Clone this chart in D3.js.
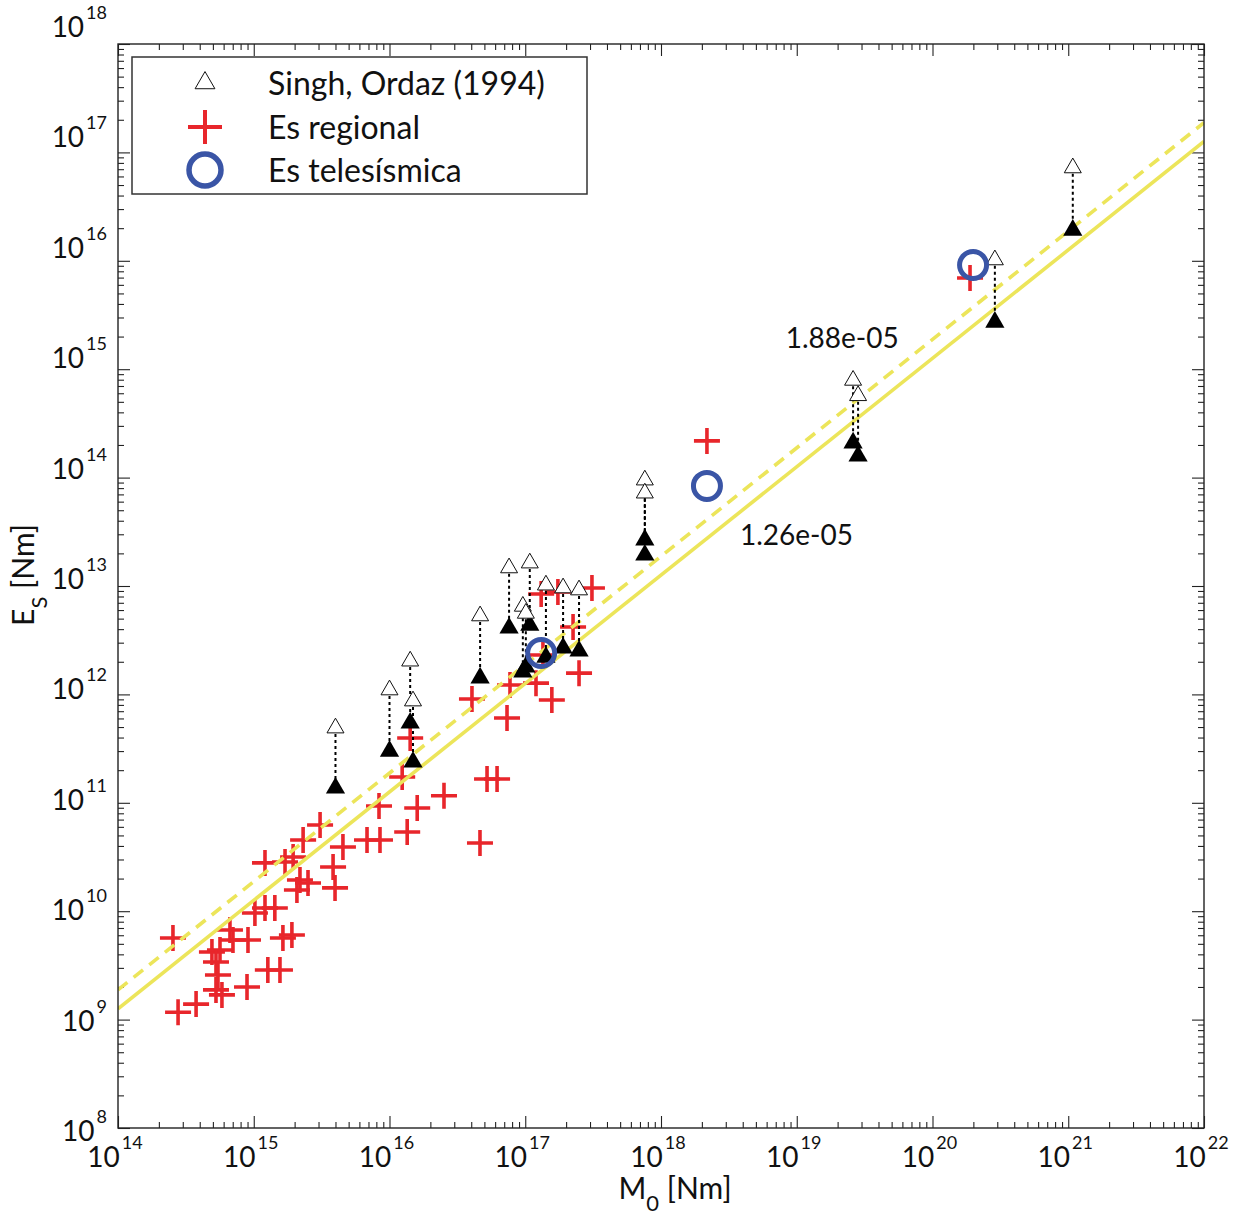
<!DOCTYPE html>
<html>
<head>
<meta charset="utf-8">
<script src="https://cdn.jsdelivr.net/npm/d3@7"></script>
<style>
  body { margin: 0; background: #fff; }
  svg { display: block; }
  text { font-family: "Lato", "Open Sans", "DejaVu Sans", sans-serif; fill: #111; }
</style>
</head>
<body>
<svg id="chart" width="1249" height="1219"></svg>
<script>
// ---- Data -------------------------------------------------------------
// Singh & Ordaz (1994): seismic moment, published energy, corrected energy
const singhM0     = [4.0e15, 1.0e16, 1.42e16, 1.49e16, 4.65e16, 7.6e16, 1.08e17, 9.6e16, 1.01e17,
                     1.42e17, 1.9e17, 2.49e17, 7.6e17, 7.6e17, 2.6e19, 2.83e19, 2.88e20, 1.08e21];
const singhEs     = [4.9e11, 1.1e12, 2.03e12, 8.7e11, 5.3e12, 1.47e13, 1.63e13, 6.5e12, 5.6e12,
                     1.02e13, 9.6e12, 9.2e12, 9.5e13, 7.2e13, 7.9e14, 5.7e14, 1.02e16, 7.2e16];
const singhEsCorr = [1.37e11, 3.0e11, 5.45e11, 2.38e11, 1.42e12, 4.1e12, 4.36e12, 1.61e12, 1.79e12,
                     2.2e12, 2.68e12, 2.51e12, 2.66e13, 1.93e13, 2.09e14, 1.58e14, 2.72e15, 1.92e16];

// Regional energy estimates
const regionalM0 = [2.54e14, 2.77e14, 3.76e14, 4.92e14, 5.64e14, 5.27e14, 5.45e14, 5.27e14, 5.83e14, 6.68e14,
                    7.03e14, 9.07e14, 8.92e14, 1.02e15, 1.21e15, 1.43e15, 1.27e15, 1.56e15, 1.64e15, 1.91e15,
                    1.21e15, 1.70e15, 1.95e15, 2.19e15, 2.51e15, 2.08e15, 2.31e15, 3.08e15, 3.97e15, 3.84e15,
                    4.54e15, 6.83e15, 8.51e15, 8.37e15, 1.24e16, 1.35e16, 1.60e16, 1.42e16, 2.52e16, 4.64e16,
                    5.23e16, 6.2e16, 4.05e16, 7.34e16, 7.72e16, 1.2e17, 1.57e17, 2.49e17, 2.25e17, 1.31e17,
                    1.74e17, 3.1e17, 1.35e17, 2.18e18, 1.89e20];
const regionalEs = [5.66e9, 1.17e9, 1.39e9, 4.2e9, 4.39e9, 3.4e9, 2.58e9, 1.88e9, 1.69e9, 6.71e9,
                    5.42e9, 5.42e9, 2.0e9, 9.62e9, 1.07e10, 1.07e10, 2.87e9, 2.87e9, 5.66e9, 6.03e9,
                    2.79e10, 2.84e10, 3.16e10, 1.94e10, 1.82e10, 1.57e10, 4.54e10, 6.24e10, 1.64e10, 2.56e10,
                    3.91e10, 4.54e10, 4.54e10, 9.34e10, 1.73e11, 5.38e10, 8.95e10, 3.96e11, 1.16e11, 4.26e10,
                    1.66e11, 1.66e11, 9.07e11, 6.06e11, 1.22e12, 1.27e12, 8.88e11, 1.57e12, 4.19e12, 8.44e12,
                    8.81e12, 9.59e12, 2.31e12, 2.18e14, 6.93e15];

// Teleseismic energy estimates
const teleM0 = [1.31e17, 2.18e18, 1.99e20];
const teleEs = [2.41e12, 8.38e13, 9.14e15];

// Es = ratio * M0 reference lines (solid, dashed)
const fitRatios = [1.26e-5, 1.88e-5];
const fitLabels = ["1.26e-05", "1.88e-05"];
const fitLabelM0 = [3.82e18, 8.3e18];
const fitLabelEs = [2.39e13, 1.57e15];

// Axis decades
const xTickExps = [14, 15, 16, 17, 18, 19, 20, 21, 22];
const yTickExps = [8, 9, 10, 11, 12, 13, 14, 15, 16, 17, 18];

const legendLabels = ["Singh, Ordaz (1994)", "Es regional", "Es telesísmica"];

// ---- Layout -------------------------------------------------------------
const svg = d3.select("#chart");
const pLeft = 118, pRight = 1204, pTop = 44, pBottom = 1128;
const RED = "#e8262b", BLUE = "#3a55a6", YELLOW = "#ece55a";

const x = d3.scaleLog().domain([1e14, 1e22]).range([pLeft, pRight]);
const y = d3.scaleLog().domain([1e8, 1e18]).range([pBottom, pTop]);
// tick labels are typeset on a slightly wider spacing than the ticks themselves
const yLabel = d3.scaleLog().domain([1e8, 1e18]).range([1131, 27]);

const majorX = xTickExps.map(e => Math.pow(10, e));
const majorY = yTickExps.map(e => Math.pow(10, e));
const minorsOf = exps => {
  const out = [];
  for (let i = 0; i < exps.length - 1; i++)
    for (let m = 2; m <= 9; m++) out.push(m * Math.pow(10, exps[i]));
  return out;
};
const minorX = minorsOf(xTickExps);
const minorY = minorsOf(yTickExps);

svg.append("rect").attr("width", 1249).attr("height", 1219).attr("fill", "#fff");

// clip for the data area
svg.append("clipPath").attr("id", "plotClip")
  .append("rect").attr("x", pLeft).attr("y", pTop)
  .attr("width", pRight - pLeft).attr("height", pBottom - pTop);

// ---- Axes (inward ticks on all four sides) ----
function drawAxis(gen, tx, ty) {
  const g = svg.append("g").attr("transform", `translate(${tx},${ty})`).call(gen);
  g.select(".domain").remove();
  g.selectAll(".tick line").attr("stroke", "#222").attr("stroke-width", 1.1);
  g.selectAll(".tick text").remove();
}
[[majorX, 12], [minorX, 6]].forEach(([vals, len]) => {
  drawAxis(d3.axisBottom(x).tickValues(vals).tickSize(-len).tickSizeOuter(0).tickFormat(""), 0, pBottom);
  drawAxis(d3.axisTop(x).tickValues(vals).tickSize(-len).tickSizeOuter(0).tickFormat(""), 0, pTop);
});
[[majorY, 12], [minorY, 6]].forEach(([vals, len]) => {
  drawAxis(d3.axisLeft(y).tickValues(vals).tickSize(-len).tickSizeOuter(0).tickFormat(""), pLeft, 0);
  drawAxis(d3.axisRight(y).tickValues(vals).tickSize(-len).tickSizeOuter(0).tickFormat(""), pRight, 0);
});

// x tick labels: 10 with superscript exponent
const xLab = svg.append("g").selectAll("text").data(xTickExps).join("text")
  .attr("x", d => x(Math.pow(10, d)) - 3)
  .attr("y", 1167)
  .attr("text-anchor", "middle")
  .style("font-size", "28px");
xLab.append("tspan").text("10");
xLab.append("tspan").attr("dy", -18).style("font-size", "18px").attr("dx", 2).text(d => d);

// y tick labels
const yLab = svg.append("g").selectAll("text").data(yTickExps).join("text")
  .attr("x", 107)
  .attr("y", d => yLabel(Math.pow(10, d)) + 10)
  .attr("text-anchor", "end")
  .style("font-size", "28px");
yLab.append("tspan").text("10");
yLab.append("tspan").attr("dy", -18).attr("dx", 2).style("font-size", "18px").text(d => d);

// axis titles
const xt = svg.append("text").attr("x", 675).attr("y", 1199).attr("text-anchor", "middle")
  .style("font-size", "30px");
xt.append("tspan").text("M");
xt.append("tspan").attr("dy", 12).style("font-size", "22px").text("0");
xt.append("tspan").attr("dy", -12).text(" [Nm]");

const yt = svg.append("text").attr("transform", "translate(34,575) rotate(-90)")
  .attr("text-anchor", "middle").style("font-size", "30px");
yt.append("tspan").text("E");
yt.append("tspan").attr("dy", 13).style("font-size", "22px").text("S");
yt.append("tspan").attr("dy", -13).text(" [Nm]");

// ---- Data layer ----
const plot = svg.append("g").attr("clip-path", "url(#plotClip)");

// regional crosses
const cross = "M-13,0H13M0,-13V13";
plot.append("g").selectAll("path").data(d3.range(regionalM0.length)).join("path")
  .attr("d", cross)
  .attr("transform", i => `translate(${x(regionalM0[i])},${y(regionalEs[i])})`)
  .attr("stroke", RED).attr("stroke-width", 3.6).attr("fill", "none");

// Es = r * M0 lines
const lineGen = d3.line().x(d => x(d[0])).y(d => y(d[1]));
fitRatios.forEach((r, i) => {
  plot.append("path")
    .datum(x.domain().map(m => [m, r * m]))
    .attr("d", lineGen)
    .attr("fill", "none")
    .attr("stroke", YELLOW)
    .attr("stroke-width", 3.6)
    .attr("stroke-dasharray", i === 1 ? "12,8" : null);
});

// dotted connectors between published and corrected energies
plot.append("g").selectAll("line").data(d3.range(singhM0.length)).join("line")
  .attr("x1", i => x(singhM0[i])).attr("x2", i => x(singhM0[i]))
  .attr("y1", i => y(singhEs[i])).attr("y2", i => y(singhEsCorr[i]))
  .attr("stroke", "#000").attr("stroke-width", 2).attr("stroke-dasharray", "3,3");

// corrected (filled) triangles
const triFilled = d3.symbol(d3.symbolTriangle, 160)();
const triOpen = d3.symbol(d3.symbolTriangle, 125)();
plot.append("g").selectAll("path").data(d3.range(singhM0.length)).join("path")
  .attr("d", triFilled)
  .attr("transform", i => `translate(${x(singhM0[i])},${y(singhEsCorr[i])})`)
  .attr("fill", "#000");

// published (open) triangles
plot.append("g").selectAll("path").data(d3.range(singhM0.length)).join("path")
  .attr("d", triOpen)
  .attr("transform", i => `translate(${x(singhM0[i])},${y(singhEs[i])})`)
  .attr("fill", "#fff").attr("stroke", "#111").attr("stroke-width", 1);

// teleseismic circles
plot.append("g").selectAll("circle").data(d3.range(teleM0.length)).join("circle")
  .attr("cx", i => x(teleM0[i])).attr("cy", i => y(teleEs[i])).attr("r", 13.5)
  .attr("fill", "none").attr("stroke", BLUE).attr("stroke-width", 5);

// line ratio annotations
svg.append("g").selectAll("text").data(fitLabels).join("text")
  .attr("x", (d, i) => x(fitLabelM0[i]))
  .attr("y", (d, i) => y(fitLabelEs[i]))
  .style("font-size", "28px")
  .text(d => d);

// plot frame
svg.append("rect").attr("x", pLeft).attr("y", pTop)
  .attr("width", pRight - pLeft).attr("height", pBottom - pTop)
  .attr("fill", "none").attr("stroke", "#222").attr("stroke-width", 1.4);

// ---- Legend ----
const lg = svg.append("g").attr("transform", "translate(132,57)");
lg.append("rect").attr("width", 455).attr("height", 137)
  .attr("fill", "#fff").attr("stroke", "#333").attr("stroke-width", 1.5);
const rowY = [26, 70, 113];
lg.append("path").attr("d", d3.symbol(d3.symbolTriangle, 170)())
  .attr("transform", `translate(73,${rowY[0]})`)
  .attr("fill", "#fff").attr("stroke", "#111").attr("stroke-width", 1);
lg.append("path").attr("d", "M-17,0H17M0,-17V17")
  .attr("transform", `translate(73,${rowY[1]})`)
  .attr("stroke", RED).attr("stroke-width", 4).attr("fill", "none");
lg.append("circle").attr("cx", 73).attr("cy", rowY[2]).attr("r", 16)
  .attr("fill", "none").attr("stroke", BLUE).attr("stroke-width", 5.5);
lg.selectAll("text.lbl").data(legendLabels).join("text")
  .attr("class", "lbl")
  .attr("x", 136)
  .attr("y", (d, i) => rowY[i] + 12)
  .style("font-size", "32px")
  .text(d => d);
</script>
</body>
</html>
